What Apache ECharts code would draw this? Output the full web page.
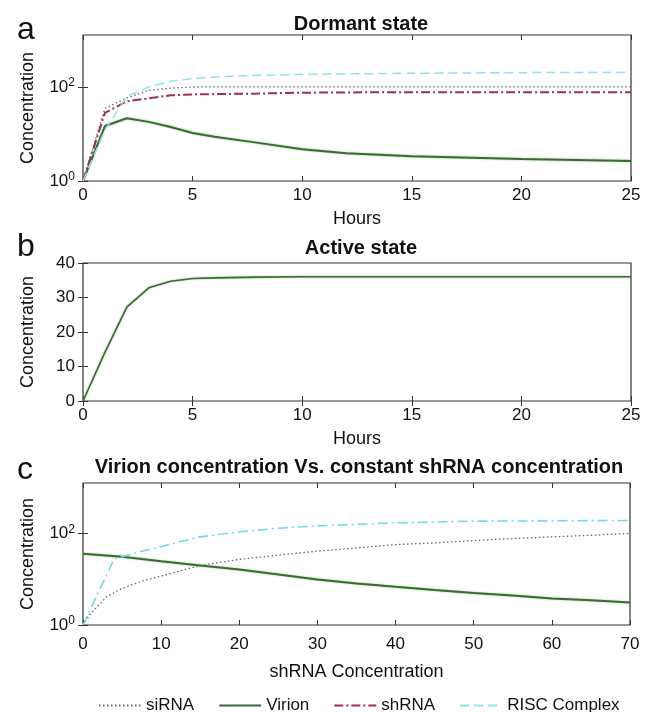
<!DOCTYPE html>
<html>
<head>
<meta charset="utf-8">
<script src="https://cdn.jsdelivr.net/npm/echarts@6/dist/echarts.min.js"></script>
<style>
  html, body { margin: 0; padding: 0; background: #ffffff; }
  #chart { width: 655px; height: 712px; }
</style>
</head>
<body>
<div id="chart"></div>
<script>
// ---- Panel a: dormant state (log scale) ----
const hoursA = [0, 1, 2, 3, 4, 5, 6, 8, 10, 12, 15, 20, 25];
const dormantSiRNA = [1, 35, 58, 84, 94, 99, 100, 100, 100, 100, 100, 100, 100];
const dormantVirion = [1, 14.7, 21.5, 18, 14, 10.5, 8.7, 6.45, 4.7, 3.9, 3.35, 2.93, 2.65];
const dormantShRNA = [1, 28, 49, 57, 66, 69, 70, 72, 75, 76, 77, 77, 77];
const dormantRISC = [1, 12, 62, 100, 131, 149, 162, 175, 184, 188, 194, 200, 203];

// ---- Panel b: active state (linear scale) ----
const hoursB = [0, 1, 2, 3, 4, 5, 6, 8, 10, 15, 20, 25];
const activeVirion = [0, 14.1, 27.2, 32.8, 34.7, 35.5, 35.7, 35.9, 36, 36, 36, 36];

// ---- Panel c: response to constant shRNA concentration (log scale) ----
const cVirionX = [0, 5, 10, 15, 20, 25, 30, 35, 40, 45, 50, 55, 60, 65, 70];
const cVirion = [36, 31, 24.8, 20, 16.3, 12.7, 9.8, 8.1, 6.8, 5.8, 5.0, 4.4, 3.8, 3.45, 3.1];
const cSiRNAX = [0, 1, 2, 3, 5, 8, 10, 15, 20, 25, 30, 35, 40, 45, 50, 55, 60, 65, 70];
const cSiRNA = [1, 1.8, 2.7, 4.1, 6.3, 9.6, 11.7, 20, 27, 33.5, 41, 48, 57, 62, 70, 77, 84, 91, 100];
const cRISCX = [0, 4, 5, 8, 10, 15, 20, 25, 30, 40, 50, 60, 70];
const cRISC = [1, 28, 31, 43, 52, 84, 108, 130, 146, 170, 185, 188, 192];

// ---- Axis ticks ----
const logTicks = [1, 100];
const logMax = 1260;

const FONT = 'Liberation Sans, Arial, Helvetica, sans-serif';
const AXIS_COLOR = '#333333';

const COLORS = {
  siRNA: '#666670',
  virion: '#3b6b34',
  shRNA: '#9e2f44',
  risc: '#8ce3ea'
};

function pairs(xs, ys) { return xs.map((x, i) => [x, ys[i]]); }

const grids = [
  { left: 83, right: 24, top: 35, height: 146 },
  { left: 83, right: 24, top: 263, height: 138 },
  { left: 83, right: 25, top: 483, height: 142 }
].map(g => Object.assign({ show: true, borderColor: AXIS_COLOR, borderWidth: 1.2, backgroundColor: 'transparent' }, g));

const tickStyle = { inside: true, length: 5, lineStyle: { color: AXIS_COLOR, width: 1 } };
const labelStyle = { color: '#111', fontSize: 17, fontFamily: FONT };
const nameStyle = { color: '#111', fontSize: 18, fontFamily: FONT };

function xAxes(gridIndex, max, interval, name, labelMargin, nameGap) {
  return [
    {
      type: 'value', gridIndex, min: 0, max, interval, position: 'bottom',
      name, nameLocation: 'middle', nameGap, nameTextStyle: nameStyle,
      axisLine: { show: false }, splitLine: { show: false },
      axisTick: tickStyle,
      axisLabel: Object.assign({ margin: labelMargin }, labelStyle)
    },
    {
      type: 'value', gridIndex, min: 0, max, interval, position: 'top',
      axisLine: { show: false }, splitLine: { show: false },
      axisTick: tickStyle, axisLabel: { show: false }
    }
  ];
}

const supRich = {
  b: { fontSize: 17, fontFamily: FONT, color: '#111', lineHeight: 20 },
  s: { fontSize: 12, fontFamily: FONT, color: '#111', lineHeight: 20, verticalAlign: 'top', padding: [0, 0, 6, 0] }
};

function logYAxes(gridIndex) {
  return [
    {
      type: 'log', logBase: 10, gridIndex, min: 1, max: logMax, position: 'left',
      name: 'Concentration', nameLocation: 'middle', nameGap: 46, nameTextStyle: nameStyle,
      axisLine: { show: false }, splitLine: { show: false }, minorTick: { show: false },
      axisTick: Object.assign({ customValues: logTicks }, tickStyle),
      axisLabel: {
        customValues: logTicks, margin: 8, rich: supRich,
        formatter: v => '{b|10}{s|' + Math.round(Math.log10(v)) + '}'
      }
    },
    {
      type: 'log', logBase: 10, gridIndex, min: 1, max: logMax, position: 'right',
      axisLine: { show: false }, splitLine: { show: false }, minorTick: { show: false },
      axisTick: Object.assign({ customValues: logTicks }, tickStyle),
      axisLabel: { show: false }
    }
  ];
}

function linYAxes(gridIndex) {
  return [
    {
      type: 'value', gridIndex, min: 0, max: 40, interval: 10, position: 'left',
      name: 'Concentration', nameLocation: 'middle', nameGap: 46, nameTextStyle: nameStyle,
      axisLine: { show: false }, splitLine: { show: false },
      axisTick: tickStyle,
      axisLabel: Object.assign({ margin: 8 }, labelStyle)
    },
    {
      type: 'value', gridIndex, min: 0, max: 40, interval: 10, position: 'right',
      axisLine: { show: false }, splitLine: { show: false },
      axisTick: tickStyle, axisLabel: { show: false }
    }
  ];
}

const xAxis = [].concat(
  xAxes(0, 25, 5, 'Hours', 6, 29),
  xAxes(1, 25, 5, 'Hours', 6, 29),
  xAxes(2, 70, 10, 'shRNA Concentration', 11, 38)
);
const yAxis = [].concat(logYAxes(0), linYAxes(1), logYAxes(2));

function line(name, xIdx, yIdx, data, color, width, type, glow) {
  const lineStyle = { color, width, type };
  if (glow) {
    // soft light-green edge around the virion trace
    Object.assign(lineStyle, { shadowColor: glow, shadowBlur: 2 });
  }
  return {
    name, type: 'line', xAxisIndex: xIdx, yAxisIndex: yIdx, data,
    symbol: 'none', smooth: false, animation: false,
    lineStyle,
    itemStyle: { color }
  };
}

const dotted = [1.5, 2.5];
const dashDot = [9, 3, 2, 3];
const dashed = [9, 5];
const virionGlow = 'rgba(130, 190, 115, 0.8)';

const series = [
  // panel a
  line('siRNA', 0, 0, pairs(hoursA, dormantSiRNA), COLORS.siRNA, 1.3, dotted),
  line('Virion', 0, 0, pairs(hoursA, dormantVirion), COLORS.virion, 2, 'solid', virionGlow),
  line('shRNA', 0, 0, pairs(hoursA, dormantShRNA), COLORS.shRNA, 2, dashDot),
  line('RISC Complex', 0, 0, pairs(hoursA, dormantRISC), COLORS.risc, 1.5, dashed),
  // panel b
  line('Virion', 2, 2, pairs(hoursB, activeVirion), COLORS.virion, 1.6, 'solid', virionGlow),
  // panel c
  line('siRNA', 4, 4, pairs(cSiRNAX, cSiRNA), COLORS.siRNA, 1.3, dotted),
  line('Virion', 4, 4, pairs(cVirionX, cVirion), COLORS.virion, 2, 'solid', virionGlow),
  line('RISC Complex', 4, 4, pairs(cRISCX, cRISC), '#6fdde3', 1.6, [10, 4, 2, 4])
];

const titleStyle = { color: '#111', fontSize: 20, fontWeight: 'bold', fontFamily: FONT };
const letterStyle = { color: '#111', fontSize: 32, fontWeight: 'normal', fontFamily: FONT };

const option = {
  backgroundColor: '#ffffff',
  animation: false,
  title: [
    { text: 'Dormant state', left: 356, top: 9, textAlign: 'center', textStyle: titleStyle },
    { text: 'Active state', left: 356, top: 233, textAlign: 'center', textStyle: titleStyle },
    { text: 'Virion concentration Vs. constant shRNA concentration', left: 354, top: 452, textAlign: 'center', textStyle: titleStyle },
    { text: 'a', left: 12, top: 9, textStyle: letterStyle },
    { text: 'b', left: 12, top: 226, textStyle: letterStyle },
    { text: 'c', left: 12, top: 449, textStyle: letterStyle }
  ],
  legend: {
    left: 93, top: 692, orient: 'horizontal',
    itemWidth: 42, itemHeight: 12, itemGap: 24,
    itemStyle: { opacity: 0 },
    data: ['siRNA', 'Virion', 'shRNA', 'RISC Complex'],
    textStyle: { color: '#111', fontSize: 17, fontFamily: FONT }
  },
  grid: grids,
  xAxis,
  yAxis,
  series
};

const chart = echarts.init(document.getElementById('chart'), null, { renderer: 'canvas' });
chart.setOption(option);
</script>
</body>
</html>
